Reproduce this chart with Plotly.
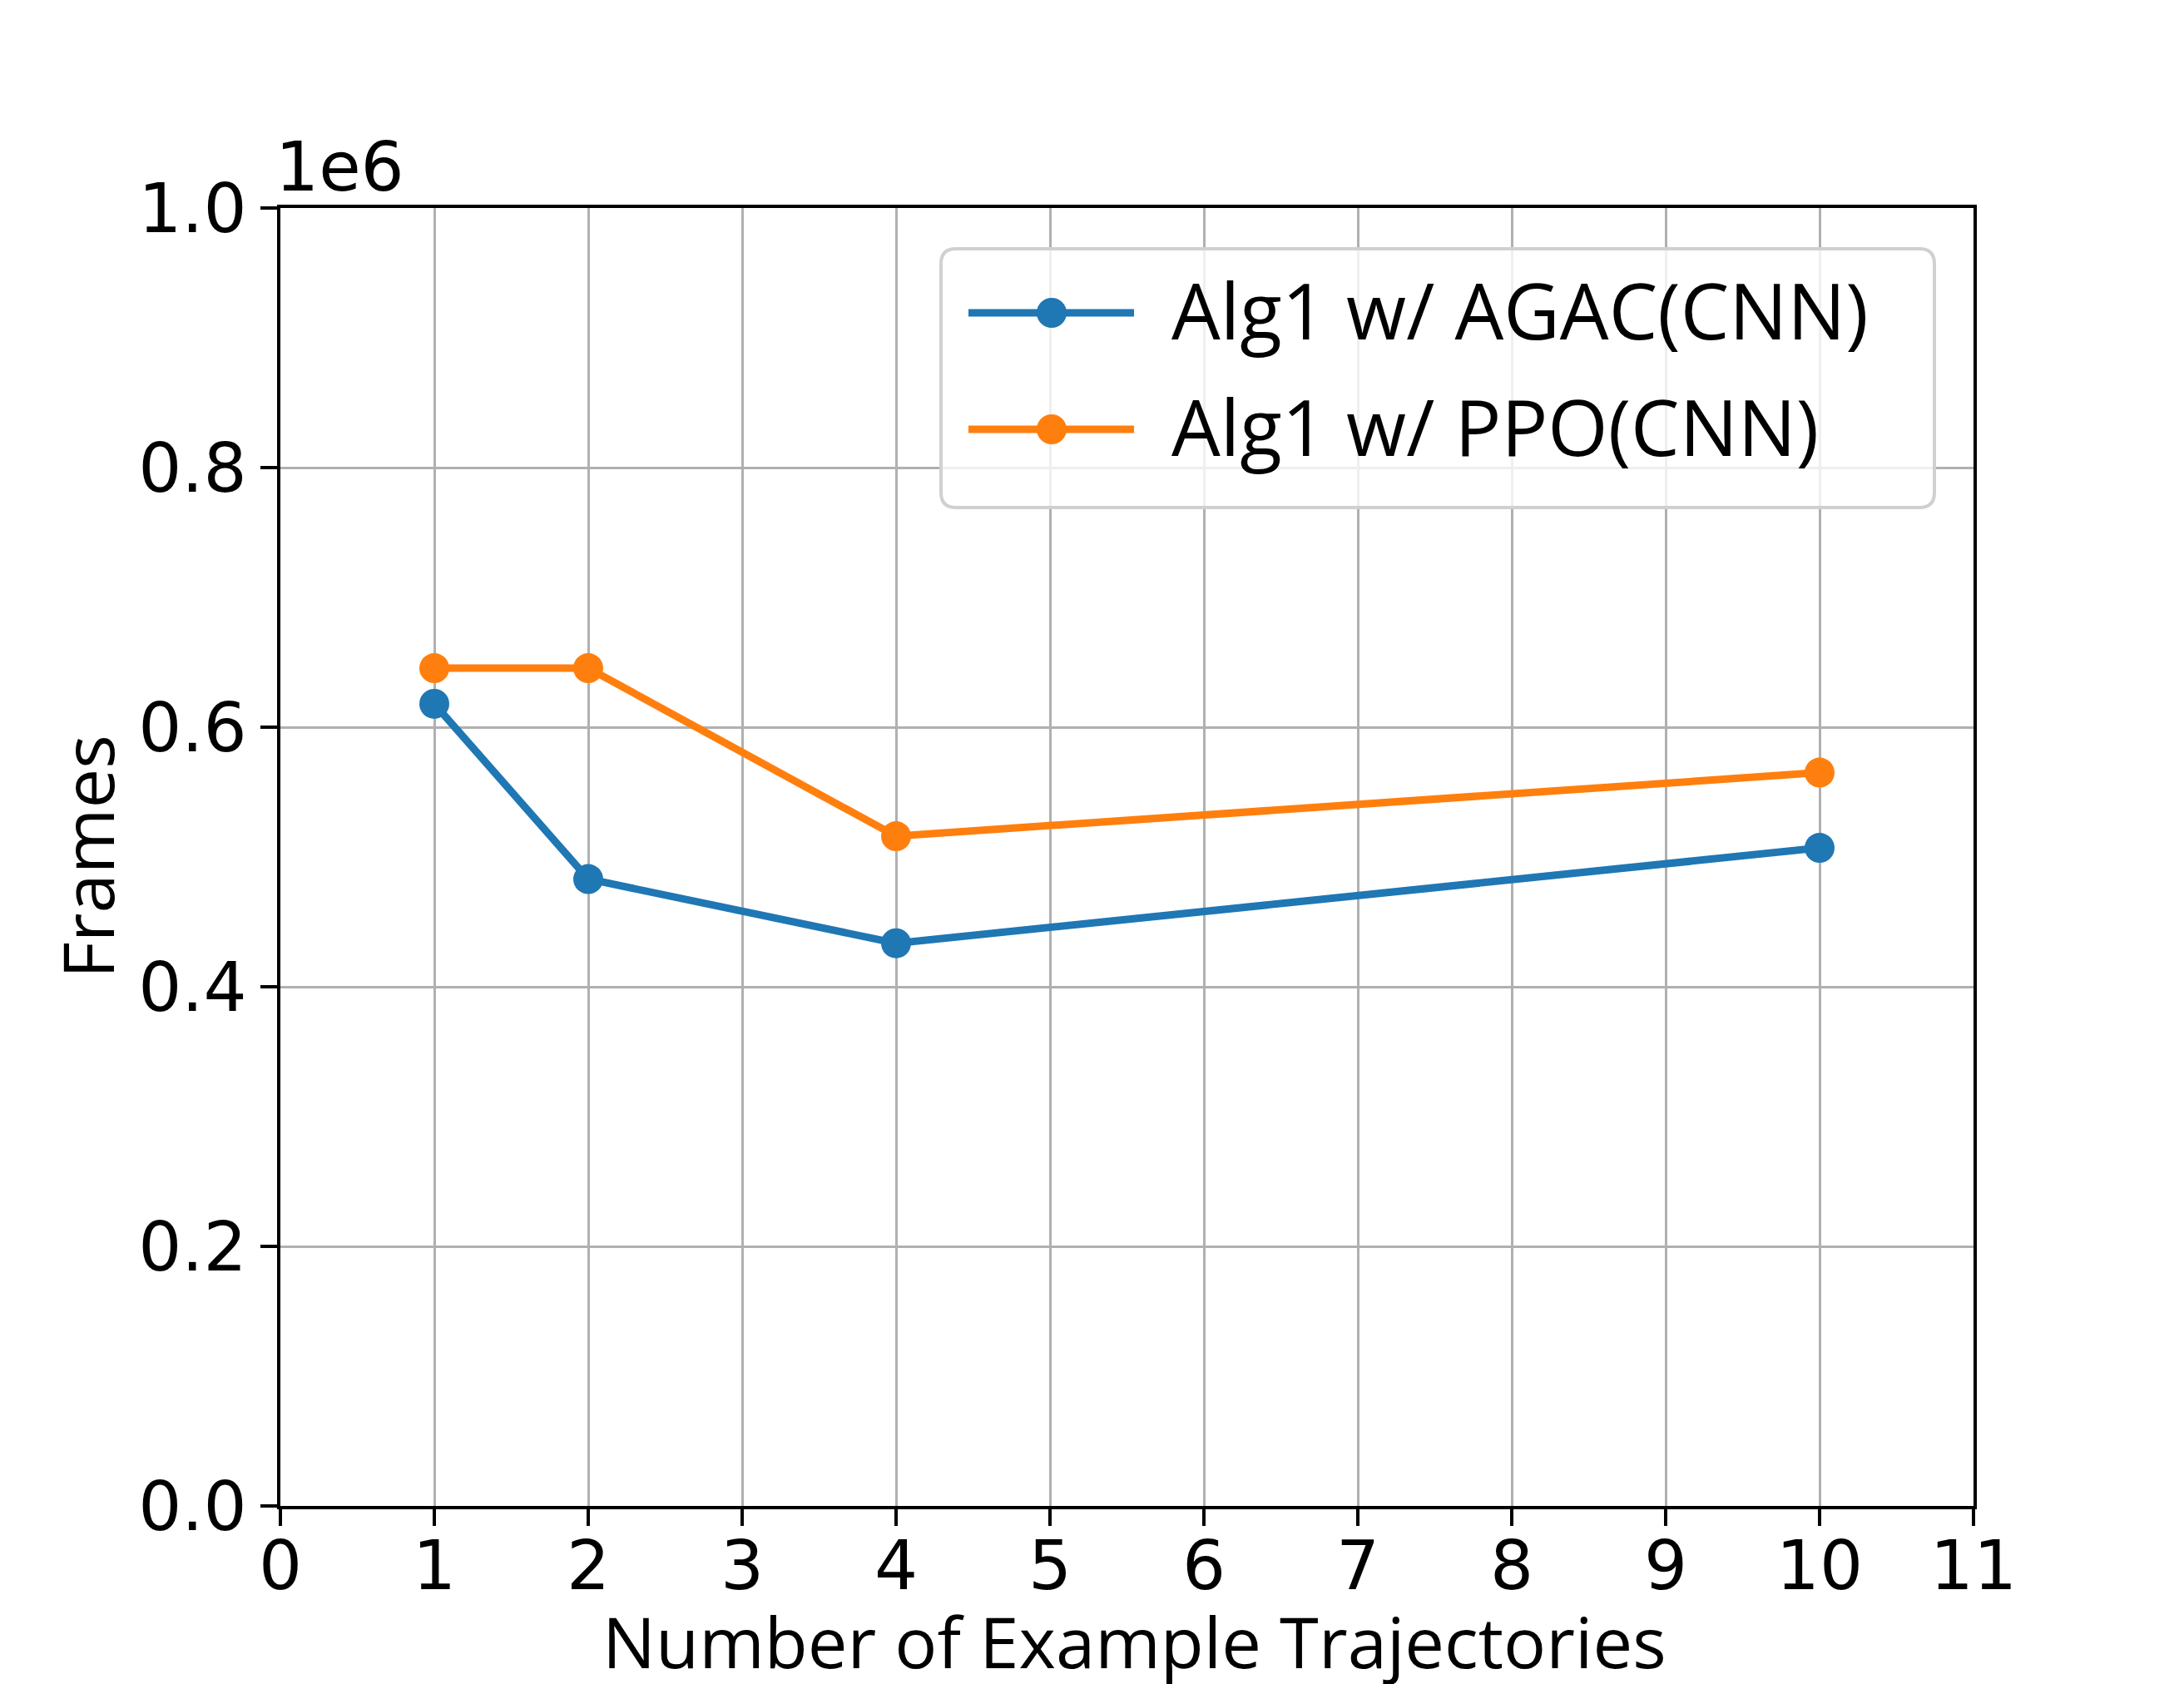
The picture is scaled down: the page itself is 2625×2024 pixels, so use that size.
import plotly.graph_objects as go

# ---- data ----
x_traj = [1, 2, 4, 10]
agac_frames = [618000, 483000, 433500, 507000]
ppo_frames = [645500, 645500, 516000, 565000]
series_names = ["Alg1 w/ AGAC(CNN)", "Alg1 w/ PPO(CNN)"]
series_colors = ["#1f77b4", "#ff7f0e"]
x_ticks = list(range(0, 12))
y_tickvals = [0, 200000, 400000, 600000, 800000, 1000000]
y_ticktext = ["0.0", "0.2", "0.4", "0.6", "0.8", "1.0"]

W, H = 2625, 2024
L, R, T, B = 329, 2364, 242, 1802
PW, PH = R - L, B - T

def px(xp):
    return (xp - L) / PW

def py(yp):
    return (B - yp) / PH

fig = go.Figure()
for name, ys, col in zip(series_names, [agac_frames, ppo_frames], series_colors):
    fig.add_trace(go.Scatter(
        x=x_traj, y=ys, mode="lines+markers", name=name,
        line=dict(color=col, width=9),
        marker=dict(color=col, size=36),
        showlegend=False,
    ))

tick_font = dict(family="DejaVu Sans", size=82, color="black")
title_font = dict(family="Open Sans", size=85, color="black")

fig.update_layout(
    width=W, height=H,
    margin=dict(l=L, r=W - R, t=T, b=H - B, pad=0),
    paper_bgcolor="white", plot_bgcolor="white",
    xaxis=dict(
        range=[0, 11], tickvals=x_ticks, ticktext=[str(v) for v in x_ticks],
        showgrid=True, gridcolor="#b0b0b0", gridwidth=3,
        showline=True, linecolor="black", linewidth=4, mirror=True,
        ticks="outside", ticklen=20, tickwidth=4, tickcolor="black",
        tickfont=tick_font, zeroline=False, ticklabelstandoff=-22,
    ),
    yaxis=dict(
        range=[0, 1000000], tickvals=y_tickvals, ticktext=y_ticktext,
        showgrid=True, gridcolor="#b0b0b0", gridwidth=3,
        showline=True, linecolor="black", linewidth=4, mirror=True,
        ticks="outside", ticklen=20, tickwidth=4, tickcolor="black",
        tickfont=tick_font, zeroline=False,
    ),
)

# axis titles and offset label
fig.add_annotation(text="Number of Example Trajectories", xref="paper", yref="paper",
                   x=px(1355), y=py(1964), xanchor="center", yanchor="middle",
                   showarrow=False, font=title_font)
fig.add_annotation(text="Frames", xref="paper", yref="paper",
                   x=px(96), y=0.5, xanchor="center", yanchor="middle",
                   textangle=-90, showarrow=False, font=title_font)
fig.add_annotation(text="1e6", xref="paper", yref="paper",
                   x=px(321), y=1.0, xanchor="left", yanchor="bottom",
                   showarrow=False, font=tick_font)

# legend box (rounded)
x0, x1 = px(1123), px(2317)
y0, y1 = py(602), py(291)
rx, ry = 18 / PW, 18 / PH
path = (f"M{x0+rx},{y0} L{x1-rx},{y0} Q{x1},{y0} {x1},{y0+ry} "
        f"L{x1},{y1-ry} Q{x1},{y1} {x1-rx},{y1} L{x0+rx},{y1} "
        f"Q{x0},{y1} {x0},{y1-ry} L{x0},{y0+ry} Q{x0},{y0} {x0+rx},{y0} Z")
fig.add_shape(type="path", path=path, xref="paper", yref="paper",
              fillcolor="rgba(255,255,255,0.8)", line=dict(color="#d0d0d0", width=4),
              layer="above")

legend_rows = [368, 508]
for name, col, yp in zip(series_names, series_colors, legend_rows):
    fig.add_shape(type="line", xref="paper", yref="paper",
                  x0=px(1156), x1=px(1355), y0=py(yp), y1=py(yp),
                  line=dict(color=col, width=9), layer="above")
    fig.add_shape(type="circle", xref="paper", yref="paper",
                  xsizemode="pixel", ysizemode="pixel",
                  xanchor=px(1256), yanchor=py(yp),
                  x0=-18, x1=18, y0=-18, y1=18,
                  fillcolor=col, line=dict(color=col, width=0), layer="above")
    fig.add_annotation(text=name, xref="paper", yref="paper",
                       x=px(1398), y=py(yp - 4), xanchor="left", yanchor="middle",
                       showarrow=False, font=dict(family="Open Sans", size=93, color="black"))

fig.write_html("out.html")
